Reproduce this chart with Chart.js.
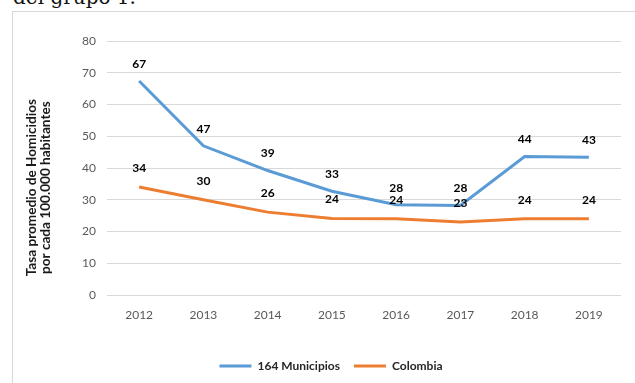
<!DOCTYPE html>
<html>
<head>
<meta charset="utf-8">
<script src="https://cdn.jsdelivr.net/npm/chart.js@4.4.0/dist/chart.umd.min.js"></script>
<style>
  html, body { margin: 0; padding: 0; background: #fff; overflow: hidden; }
  body { width: 635px; height: 383px; position: relative; }
  #caption { position: absolute; left: 13px; top: -15px; font-family: "DejaVu Serif", "Liberation Serif", serif; font-size: 20px; color: #111; white-space: nowrap; }
  #box { position: absolute; left: 12px; top: 11px; width: 660px; height: 380px; border-left: 1px solid #d9d9d9; border-top: 1px solid #d9d9d9; }
  #wrap { position: absolute; left: 0; top: 0; width: 637px; height: 372px; }
</style>
</head>
<body>
<div id="caption">del grupo 1.</div>
<div id="box"><div id="wrap"><canvas id="c"></canvas></div></div>
<script>
const years = ["2012", "2013", "2014", "2015", "2016", "2017", "2018", "2019"];
const municipios = [67.4, 47.0, 39.2, 32.7, 28.4, 28.2, 43.6, 43.4];
const colombia = [34, 30, 26.1, 24.1, 24, 23, 24, 24];
const yTicks = [0, 10, 20, 30, 40, 50, 60, 70, 80];
const seriesNames = ["164 Municipios", "Colombia"];
const axisTitle = ["Tasa promedio de Homicidios", "por cada 100.000 habitantes"];

const FONT = "Lato, 'Open Sans', sans-serif";

const valueLabels = {
  id: 'valueLabels',
  afterDatasetsDraw(chart) {
    const ctx = chart.ctx;
    ctx.save();
    ctx.font = "bold 12px " + FONT;
    ctx.fillStyle = "#000";
    ctx.textAlign = "center";
    ctx.textBaseline = "middle";
    const offsets = [17, 19];
    chart.data.datasets.forEach((ds, i) => {
      const meta = chart.getDatasetMeta(i);
      meta.data.forEach((pt, j) => {
        ctx.fillText(String(Math.round(ds.data[j])), pt.x, pt.y - offsets[i]);
      });
    });
    ctx.restore();
  }
};

const yTitle = {
  id: 'yTitle',
  afterDraw(chart) {
    const ctx = chart.ctx;
    const ys = chart.scales.y;
    const cy = ys.getPixelForValue(33.8);
    ctx.save();
    ctx.font = "bold 13.6px " + FONT;
    ctx.fillStyle = "#1a1a1a";
    ctx.textAlign = "center";
    ctx.textBaseline = "middle";
    ctx.translate(19, cy);
    ctx.rotate(-Math.PI / 2);
    ctx.fillText(axisTitle[0], 0, 0);
    ctx.fillText(axisTitle[1], 0, 14);
    ctx.restore();
  }
};

new Chart(document.getElementById('c'), {
  type: 'line',
  data: {
    labels: years,
    datasets: [
      { label: seriesNames[0], data: municipios, borderColor: '#5B9BD5', backgroundColor: '#5B9BD5', borderWidth: 3, pointRadius: 0, tension: 0 },
      { label: seriesNames[1], data: colombia, borderColor: '#ED7D31', backgroundColor: '#ED7D31', borderWidth: 3, pointRadius: 0, tension: 0 }
    ]
  },
  options: {
    responsive: true,
    maintainAspectRatio: false,
    animation: false,
    layout: { padding: { left: 0, right: 1, top: 29, bottom: 2 } },
    plugins: {
      legend: {
        position: 'bottom',
        labels: {
          boxWidth: 32, boxHeight: 3, padding: 14,
          font: { family: FONT, size: 12, weight: 'bold' }, color: '#262626',
          generateLabels(chart) {
            const items = Chart.defaults.plugins.legend.labels.generateLabels(chart);
            items.forEach(it => { it.lineWidth = 0; it.strokeStyle = 'rgba(0,0,0,0)'; });
            return items;
          }
        }
      },
      tooltip: { enabled: false }
    },
    scales: {
      x: {
        offset: true,
        grid: { display: false },
        border: { display: false },
        ticks: { font: { family: FONT, size: 12 }, color: '#595959', padding: 5 },
        afterFit(s) { s.height = 51; }
      },
      y: {
        min: 0, max: 80,
        afterBuildTicks(s) { s.ticks = yTicks.map(v => ({ value: v })); },
        grid: { color: '#d9d9d9', lineWidth: 1, drawTicks: false },
        border: { display: false },
        ticks: { font: { family: FONT, size: 12 }, color: '#595959', padding: 11 },
        title: { display: false },
        afterFit(s) { s.width = 94; }
      },
      yRight: {
        position: 'right',
        display: true,
        min: 0, max: 80,
        grid: { display: false, drawTicks: false },
        border: { display: false },
        ticks: { display: false },
        afterFit(s) { s.width = 28; }
      }
    }
  },
  plugins: [valueLabels, yTitle]
});
</script>
</body>
</html>
